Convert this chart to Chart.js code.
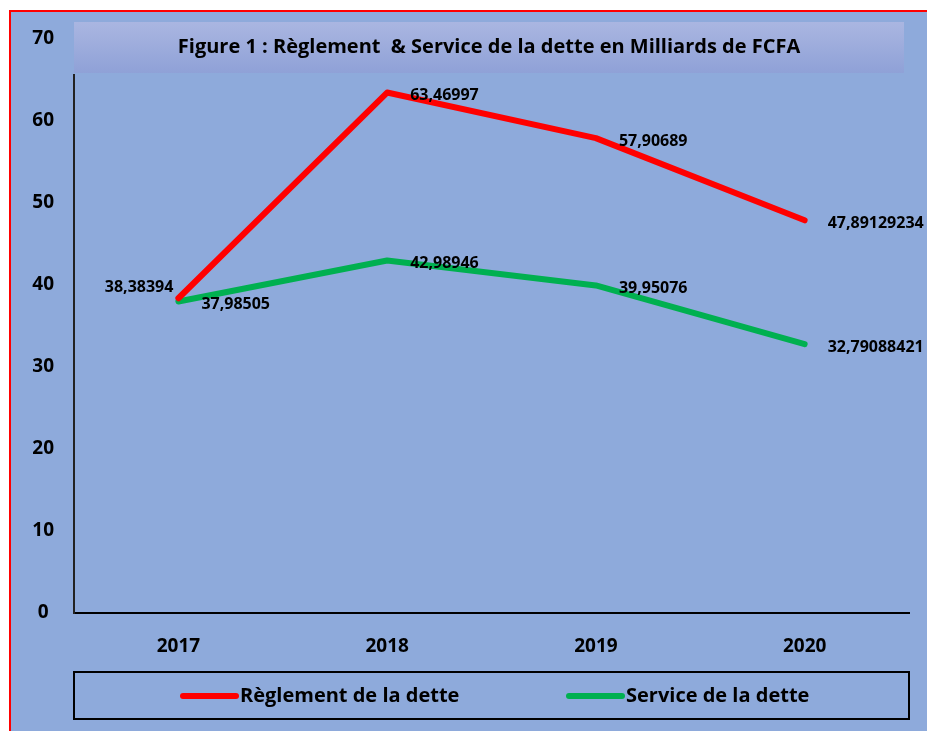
<!DOCTYPE html>
<html>
<head>
<meta charset="utf-8">
<script src="https://cdn.jsdelivr.net/npm/chart.js@4.4.1/dist/chart.umd.min.js"></script>
<style>
  html, body { margin: 0; padding: 0; background: #ffffff; }
  #wrap { width: 927px; height: 731px; position: relative; }
</style>
</head>
<body>
<div id="wrap"><canvas id="c" width="927" height="731"></canvas></div>
<script>
const categories = ['2017', '2018', '2019', '2020'];
const reglement = [38.38394, 63.46997, 57.90689, 47.89129234];
const service = [37.98505, 42.98946, 39.95076, 32.79088421];
const seriesNames = ['Règlement de la dette', 'Service de la dette'];
const yTicks = [0, 10, 20, 30, 40, 50, 60, 70];
const titleText = 'Figure 1 : Règlement  & Service de la dette en Milliards de FCFA';

const FONT = '"Open Sans", Lato, sans-serif';
const BG = '#8eaadb';

const framePlugin = {
  id: 'frame',
  beforeDraw(chart) {
    const ctx = chart.ctx;
    ctx.save();
    ctx.fillStyle = '#ffffff';
    ctx.fillRect(0, 0, chart.width, chart.height);
    ctx.fillStyle = BG;
    ctx.fillRect(9, 10, chart.width, chart.height);
    ctx.strokeStyle = '#ff0000';
    ctx.lineWidth = 2;
    ctx.beginPath();
    ctx.moveTo(10, chart.height + 5);
    ctx.lineTo(10, 11);
    ctx.lineTo(chart.width + 5, 11);
    ctx.stroke();
    ctx.restore();
  }
};

const dataLabelPlugin = {
  id: 'dataLabels',
  afterDatasetsDraw(chart) {
    const ctx = chart.ctx;
    ctx.save();
    ctx.font = 'bold 16px ' + FONT;
    ctx.fillStyle = '#000000';
    ctx.textBaseline = 'middle';
    chart.data.datasets.forEach((ds, di) => {
      const meta = chart.getDatasetMeta(di);
      meta.data.forEach((pt, i) => {
        const txt = String(ds.data[i]).replace('.', ',');
        if (di === 0 && i === 0) {
          ctx.textAlign = 'right';
          ctx.fillText(txt, pt.x - 5, pt.y - 11);
        } else {
          ctx.textAlign = 'left';
          ctx.fillText(txt, pt.x + 23, pt.y + 3);
        }
      });
    });
    ctx.restore();
  }
};

const overlayPlugin = {
  id: 'overlay',
  afterDraw(chart) {
    const ctx = chart.ctx;
    ctx.save();
    // hide axis line above plot top (behind title area)
    ctx.fillStyle = BG;
    ctx.fillRect(68, 22, 8, 52);
    // title box
    const g = ctx.createLinearGradient(0, 22, 0, 73);
    g.addColorStop(0, '#aab6e1');
    g.addColorStop(1, '#8fa1d7');
    ctx.fillStyle = g;
    ctx.fillRect(74, 22, 830, 51);
    ctx.fillStyle = '#000000';
    ctx.font = 'bold 20px ' + FONT;
    ctx.textAlign = 'center';
    ctx.textBaseline = 'middle';
    ctx.fillText(titleText, 489, 47);

    // legend box
    ctx.strokeStyle = '#000000';
    ctx.lineWidth = 2;
    ctx.strokeRect(74, 672, 835, 47);
    ctx.font = 'bold 20px ' + FONT;
    ctx.textAlign = 'left';
    const items = [
      { x1: 183, x2: 236, tx: 240 },
      { x1: 569, x2: 622, tx: 626 }
    ];
    chart.data.datasets.forEach((ds, di) => {
      const it = items[di];
      ctx.strokeStyle = ds.borderColor;
      ctx.lineWidth = 6;
      ctx.lineCap = 'round';
      ctx.beginPath();
      ctx.moveTo(it.x1, 696);
      ctx.lineTo(it.x2, 696);
      ctx.stroke();
      ctx.fillStyle = '#000000';
      ctx.fillText(ds.label, it.tx, 696);
    });
    ctx.restore();
  }
};

new Chart(document.getElementById('c'), {
  type: 'line',
  data: {
    labels: categories,
    datasets: [
      { label: seriesNames[0], data: reglement, borderColor: '#ff0000', backgroundColor: '#ff0000',
        borderWidth: 6, pointRadius: 0, tension: 0, borderCapStyle: 'round', borderJoinStyle: 'round' },
      { label: seriesNames[1], data: service, borderColor: '#00b050', backgroundColor: '#00b050',
        borderWidth: 6, pointRadius: 0, tension: 0, borderCapStyle: 'round', borderJoinStyle: 'round' }
    ]
  },
  options: {
    responsive: false,
    animation: false,
    devicePixelRatio: 1,
    layout: { padding: { left: 0, right: 18, top: 39, bottom: 68 } },
    plugins: { legend: { display: false }, title: { display: false }, tooltip: { enabled: false } },
    scales: {
      x: {
        offset: true,
        grid: { display: false, drawTicks: false },
        border: { display: true, color: '#000000', width: 2 },
        ticks: { color: '#000000', font: { family: FONT, size: 19, weight: 'bold' }, padding: 22 },
        afterFit(scale) { scale.height = 50; }
      },
      y: {
        min: 0, max: 70,
        grid: { display: false, drawTicks: false },
        border: { display: true, color: '#222222', width: 2 },
        afterBuildTicks(scale) { scale.ticks = yTicks.map(v => ({ value: v })); },
        ticks: { color: '#000000', font: { family: FONT, size: 19, weight: 'bold' }, padding: 20, crossAlign: 'center' },
        afterFit(scale) { scale.width = 74; }
      }
    }
  },
  plugins: [framePlugin, dataLabelPlugin, overlayPlugin]
});
</script>
</body>
</html>
